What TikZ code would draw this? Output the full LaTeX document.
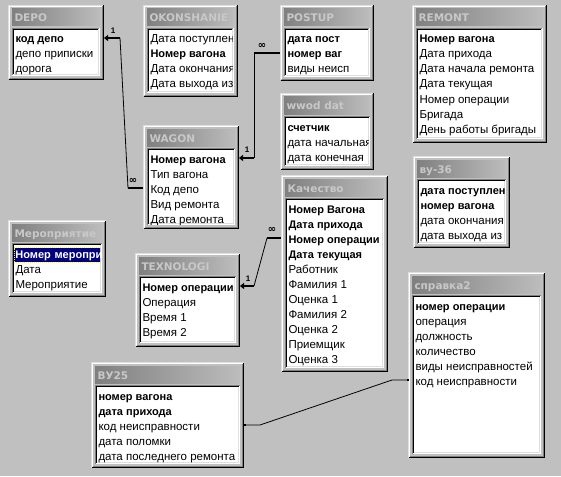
\documentclass[tikz,border=0pt]{standalone}
\usepackage{fontspec}
\setmainfont{Liberation Sans}
\newfontfamily\symf{DejaVu Sans}
\usetikzlibrary{arrows.meta}
\definecolor{winface}{RGB}{192,192,192}
\definecolor{cdlight}{RGB}{223,223,223}
\definecolor{cdshadow}{RGB}{128,128,128}
\definecolor{tbleft}{RGB}{128,128,128}
\definecolor{tbright}{RGB}{188,188,188}
\definecolor{ttltext}{RGB}{200,200,200}
\definecolor{hlblue}{RGB}{0,0,128}
\definecolor{focusy}{RGB}{255,255,0}
\tikzset{
 fld/.style={anchor=base west, inner sep=0pt, text height=10pt, text depth=0pt, font=\fontsize{11.5}{13}\selectfont},
 fn/.style={fld},
 fb/.style={fld, font=\fontsize{11}{13}\selectfont\bfseries},
 fs/.style={fb, text=white, fill=hlblue, draw=focusy, dash pattern=on 1pt off 1pt, line width=0.8pt, inner xsep=1pt, inner ysep=1.5pt, text height=9pt, text depth=2.5pt, text width=85pt, xshift=-1pt},
 ttl/.style={anchor=base west, inner sep=0pt, text=ttltext, font=\symf\fontsize{10.5}{13}\selectfont\bfseries},
 stub/.style={line width=2.5pt},
 rel/.style={line width=0.8pt},
 tipl/.style={-{Triangle[length=4pt,width=6pt]}},
 one/.style={font=\fontsize{8}{8}\selectfont\bfseries, inner sep=0pt},
 many/.style={font=\symf\fontsize{10}{10}\selectfont\bfseries, inner sep=0pt},
}
\newcommand\acctab[7]{%
 \fill[winface] (#2,#3) rectangle (#4,#5);
 \draw[cdlight] (#2+0.5,#5-0.5) -- (#2+0.5,#3+0.5) -- (#4-0.5,#3+0.5);
 \draw[white] (#2+1.5,#5-1.5) -- (#2+1.5,#3+1.5) -- (#4-1.5,#3+1.5);
 \draw[black] (#2+0.5,#5-0.5) -- (#4-0.5,#5-0.5) -- (#4-0.5,#3+0.5);
 \draw[cdshadow] (#2+1.5,#5-1.5) -- (#4-1.5,#5-1.5) -- (#4-1.5,#3+1.5);
 \shade[left color=tbleft, right color=tbright] (#2+4,#3+4) rectangle (#4-4,#3+21);
 \node[ttl] (#1) at (#2+6,#3+17) {#6};
 \fill[white] (#2+4,#3+23) rectangle (#4-4,#5-4);
 \draw[cdshadow] (#2+4.5,#5-4.5) -- (#2+4.5,#3+23.5) -- (#4-4.5,#3+23.5);
 \draw[black] (#2+5.5,#5-5.5) -- (#2+5.5,#3+24.5) -- (#4-5.5,#3+24.5);
 \draw[white] (#2+4.5,#5-4.5) -- (#4-4.5,#5-4.5) -- (#4-4.5,#3+23.5);
 \draw[cdlight] (#2+5.5,#5-5.5) -- (#4-5.5,#5-5.5) -- (#4-5.5,#3+24.5);
 \coordinate (#1-w) at (#2,#3);
 \coordinate (#1-e) at (#4,#3);
 \begin{scope}
  \clip (#2+6,#3+25) rectangle (#4-6,#5-5);
  \foreach \k/\t [count=\i] in {#7} {
   \node[\k] (#1-\i) at (#2+7,#3+38+15*\i-15) {\t};
  }
 \end{scope}
}
\begin{document}
\begin{tikzpicture}[x=1pt,y=-1pt,line width=1pt]
\useasboundingbox (0,0) rectangle (561,476);
\fill[winface] (0,0) rectangle (561,476);

\acctab{depo}{8}{5}{104}{80}{DEPO}{fb/код депо, fn/депо приписки, fn/дорога}
\acctab{okon}{143}{5}{238}{97}{OKONSHANIE}{fn/Дата поступлен, fb/Номер вагона, fn/Дата окончания, fn/Дата выхода из}
\acctab{postup}{280}{5}{374}{81}{POSTUP}{fb/дата пост, fb/номер ваг, fn/виды неисп}
\acctab{remont}{412}{5}{547}{143}{REMONT}{fb/Номер вагона, fn/Дата прихода, fn/Дата начала ремонта, fn/Дата текущая, fn/Номер операции, fn/Бригада, fn/День работы бригады}
\acctab{wwod}{280}{93}{374}{170}{wwod dat}{fb/счетчик, fn/дата начальная, fn/дата конечная}
\acctab{wagon}{143}{125}{239}{229}{WAGON}{fb/Номер вагона, fn/Тип вагона, fn/Код депо, fn/Вид ремонта, fn/Дата ремонта}
\acctab{kach}{281}{175}{388}{372}{Качество}{fb/Номер Вагона, fb/Дата прихода, fb/Номер операции, fb/Дата текущая, fn/Работник, fn/Фамилия 1, fn/Оценка 1, fn/Фамилия 2, fn/Оценка 2, fn/Приемщик, fn/Оценка 3}
\acctab{vu36}{413}{156}{510}{248}{ву-36}{fb/дата поступлен, fb/номер вагона, fn/дата окончания, fn/дата выхода из}
\acctab{merop}{8}{220}{106}{297}{Мероприятие}{fs/Номер~мероприя, fn/Дата, fn/Мероприятие}
\acctab{texn}{135}{253}{240}{347}{TEXNOLOGI}{fb/Номер операции, fn/Операция, fn/Время 1, fn/Время 2}
\acctab{spr}{408}{272}{545}{458}{справка2}{fb/номер операции, fn/операция, fn/должность, fn/количество, fn/виды неисправностей, fn/код неисправности}
\acctab{vu25}{91}{362}{244}{468}{ВУ25}{fb/номер вагона, fb/дата прихода, fn/код неисправности, fn/дата поломки, fn/дата последнего ремонта}

% DEPO.код депо (1) -- WAGON.Код депо (many)
\coordinate (c1a) at (depo-e |- depo-1);
\coordinate (c1b) at (wagon-w |- wagon-3);
\draw[stub,tipl] ([xshift=16pt]c1a) -- (c1a);
\draw[rel] ([xshift=16pt]c1a) -- ([xshift=-15pt]c1b);
\draw[stub] ([xshift=-15pt]c1b) -- (c1b);
\node[one] (l1a) at ([xshift=9pt,yshift=7pt]c1a) {1};
\node[many] (l1b) at ([xshift=-10pt,yshift=7pt]c1b) {∞};

% POSTUP.номер ваг (many) -- WAGON.Номер вагона (1)
\coordinate (c2a) at (postup-w |- postup-2);
\coordinate (c2b) at (wagon-e |- wagon-1);
\draw[stub] ([xshift=-26pt]c2a) -- (c2a);
\draw[rel] ([xshift=-26pt]c2a) -- ([xshift=15pt]c2b);
\draw[stub,tipl] ([xshift=15pt]c2b) -- (c2b);
\node[many] (l2a) at ([xshift=-18pt,yshift=7pt]c2a) {∞};
\node[one] (l2b) at ([xshift=8pt,yshift=8pt]c2b) {1};

% Качество.Номер операции (many) -- TEXNOLOGI.Номер операции (1)
\coordinate (c3a) at (kach-w |- kach-3);
\coordinate (c3b) at (texn-e |- texn-1);
\draw[stub] ([xshift=-14pt]c3a) -- (c3a);
\draw[rel] ([xshift=-14pt]c3a) -- ([xshift=14pt]c3b);
\draw[stub,tipl] ([xshift=14pt]c3b) -- (c3b);
\node[many] (l3a) at ([xshift=-9pt,yshift=8pt]c3a) {∞};
\node[one] (l3b) at ([xshift=8pt,yshift=7pt]c3b) {1};

% ВУ25.код неисправности -- справка2.код неисправности
\coordinate (c4a) at (vu25-e |- vu25-3);
\coordinate (c4b) at (spr-w |- spr-6);
\draw[rel] (c4a) -- ([xshift=16pt]c4a) -- ([xshift=-16pt]c4b) -- (c4b);
\fill[black] ([xshift=-0.5pt,yshift=-1pt]c4a) rectangle ([xshift=1.5pt,yshift=1pt]c4a);
\fill[black] ([xshift=-1.5pt,yshift=-1pt]c4b) rectangle ([xshift=0.5pt,yshift=1pt]c4b);
\end{tikzpicture}
\end{document}
